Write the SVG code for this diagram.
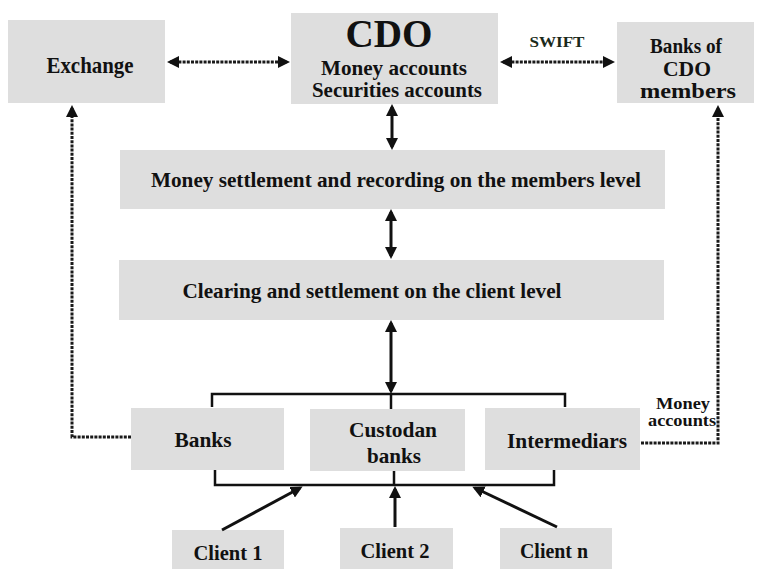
<svg xmlns="http://www.w3.org/2000/svg" width="762" height="569" viewBox="0 0 762 569">
<style>
.box{fill:#dedede;}
.t{font-family:"Liberation Serif","Times New Roman",serif;font-weight:bold;fill:#111;text-anchor:middle;}
.solid{stroke:#111;stroke-width:3;fill:none;}
.br{stroke:#111;stroke-width:2.5;fill:none;}
.dot{stroke:#1a1a1a;stroke-width:3;fill:none;stroke-dasharray:3 1.2;}
</style>
<defs>
<marker id="ah" viewBox="0 0 12 12" refX="9" refY="6" markerWidth="12" markerHeight="12" markerUnits="userSpaceOnUse" orient="auto-start-reverse">
<path d="M0,0 L12,6 L0,12 z" fill="#111"/>
</marker>
</defs>

<g id="exchange">
<rect class="box" x="8" y="20" width="157" height="83"/>
<text class="t" x="90" y="73" font-size="23" textLength="87" lengthAdjust="spacingAndGlyphs">Exchange</text>
</g>
<g id="cdo">
<rect class="box" x="291" y="13" width="207" height="91"/>
<text class="t" x="389" y="47" font-size="41" textLength="87" lengthAdjust="spacingAndGlyphs">CDO</text>
<text class="t" x="394" y="75" font-size="21" textLength="146" lengthAdjust="spacingAndGlyphs">Money accounts</text>
<text class="t" x="397" y="97" font-size="21" textLength="170" lengthAdjust="spacingAndGlyphs">Securities accounts</text>
</g>
<g id="banks-cdo">
<rect class="box" x="617" y="22" width="137" height="81"/>
<text class="t" x="686" y="53" font-size="21" textLength="72" lengthAdjust="spacingAndGlyphs">Banks of</text>
<text class="t" x="687" y="76" font-size="21" textLength="48" lengthAdjust="spacingAndGlyphs">CDO</text>
<text class="t" x="688" y="98" font-size="21" textLength="96" lengthAdjust="spacingAndGlyphs">members</text>
</g>
<g id="money-settlement">
<rect class="box" x="120" y="150" width="545" height="59"/>
<text class="t" x="396" y="187" font-size="21" textLength="490" lengthAdjust="spacingAndGlyphs">Money settlement and recording on the members level</text>
</g>
<g id="clearing">
<rect class="box" x="119" y="260" width="545" height="60"/>
<text class="t" x="372" y="298" font-size="21" textLength="379" lengthAdjust="spacingAndGlyphs">Clearing and settlement on the client level</text>
</g>
<g id="banks">
<rect class="box" x="131" y="408" width="153" height="62"/>
<text class="t" x="203" y="447" font-size="21" textLength="57" lengthAdjust="spacingAndGlyphs">Banks</text>
</g>
<g id="custodan">
<rect class="box" x="310" y="409" width="155" height="62"/>
<text class="t" x="393" y="437" font-size="21" textLength="88" lengthAdjust="spacingAndGlyphs">Custodan</text>
<text class="t" x="394" y="463" font-size="21" textLength="54" lengthAdjust="spacingAndGlyphs">banks</text>
</g>
<g id="intermediars">
<rect class="box" x="485" y="408" width="155" height="62"/>
<text class="t" x="567" y="448" font-size="21" textLength="120" lengthAdjust="spacingAndGlyphs">Intermediars</text>
</g>
<g id="client1">
<rect class="box" x="172" y="530" width="112" height="39"/>
<text class="t" x="228" y="560" font-size="21" textLength="69" lengthAdjust="spacingAndGlyphs">Client 1</text>
</g>
<g id="client2">
<rect class="box" x="340" y="528" width="113" height="41"/>
<text class="t" x="395" y="558" font-size="21" textLength="69" lengthAdjust="spacingAndGlyphs">Client 2</text>
</g>
<g id="clientn">
<rect class="box" x="500" y="528" width="112" height="41"/>
<text class="t" x="554" y="558" font-size="21" textLength="68" lengthAdjust="spacingAndGlyphs">Client n</text>
</g>

<g id="connectors">
<line class="dot" x1="170" y1="62" x2="287" y2="62" marker-start="url(#ah)" marker-end="url(#ah)"/>
<line class="dot" x1="503" y1="62" x2="612" y2="62" marker-start="url(#ah)" marker-end="url(#ah)"/>
<text class="t" x="557" y="47" font-size="15" textLength="55" lengthAdjust="spacingAndGlyphs" style="fill:#1a2a1a">SWIFT</text>
<path class="dot" d="M131,437 H72 V108" marker-end="url(#ah)"/>
<path class="dot" d="M641,443 H718 V108" marker-end="url(#ah)"/>
<text class="t" x="683" y="409" font-size="16" textLength="54" lengthAdjust="spacingAndGlyphs">Money</text>
<text class="t" x="682" y="426" font-size="16" textLength="68" lengthAdjust="spacingAndGlyphs">accounts</text>
<line class="solid" x1="392" y1="107" x2="392" y2="147" marker-start="url(#ah)" marker-end="url(#ah)"/>
<line class="solid" x1="391" y1="212" x2="391" y2="256" marker-start="url(#ah)" marker-end="url(#ah)"/>
<line class="solid" x1="391" y1="323" x2="391" y2="391" marker-start="url(#ah)" marker-end="url(#ah)"/>
<path class="br" d="M212,407 V394 H565 V407"/>
<line class="br" x1="391" y1="394" x2="391" y2="409"/>
<path class="br" d="M215,470 V485 H554 V470"/>
<line class="br" x1="394" y1="471" x2="394" y2="485"/>
<line class="solid" x1="222" y1="530" x2="300" y2="488" marker-end="url(#ah)"/>
<line class="solid" x1="395" y1="527" x2="395" y2="489" marker-end="url(#ah)"/>
<line class="solid" x1="557" y1="527" x2="475" y2="488" marker-end="url(#ah)"/>
</g>
</svg>
